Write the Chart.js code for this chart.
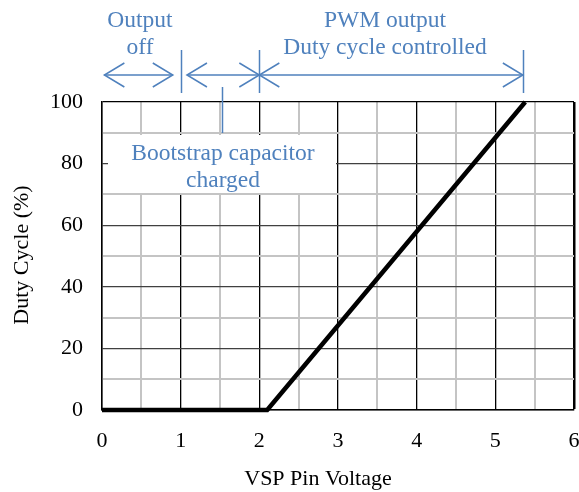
<!DOCTYPE html>
<html>
<head>
<meta charset="utf-8">
<script src="https://cdn.jsdelivr.net/npm/chart.js@4"></script>
<style>
  html, body { margin: 0; padding: 0; background: #fff; }
  #wrap { width: 579px; height: 492px; }
</style>
</head>
<body>
<div id="wrap"><canvas id="dutyChart" width="579" height="492"></canvas></div>
<script>
// du lieu doc tu hinh
const vspVoltage = [0, 2.1, 5.38];
const dutyCycle = [0, 0, 100];
const xTicks = [0, 1, 2, 3, 4, 5, 6];
const yTicks = [0, 20, 40, 60, 80, 100];
// vung (V): output off | bootstrap | PWM
const regionEdges = [1, 2, 5.35];
const bootstrapMark = 1.53;

const BLUE = '#4f81bd';
const SERIF = '"Liberation Serif", "Times New Roman", serif';

function arrowHead(ctx, x, y, dir) {
    ctx.beginPath();
    ctx.moveTo(x - dir * 20, y - 12);
    ctx.lineTo(x, y);
    ctx.lineTo(x - dir * 20, y + 12);
    ctx.stroke();
}

function hArrow(ctx, x1, x2, y) {
    ctx.beginPath();
    ctx.moveTo(x1, y);
    ctx.lineTo(x2, y);
    ctx.stroke();
    arrowHead(ctx, x1, y, -1);
    arrowHead(ctx, x2, y, 1);
}

const annotations = {
    id: 'annotations',
    afterDraw(chart) {
        const ctx = chart.ctx;
        const xs = chart.scales.x;
        ctx.save();
        ctx.strokeStyle = BLUE;
        ctx.fillStyle = BLUE;
        ctx.lineWidth = 1.5;

        // cac vach dung
        regionEdges.forEach(v => {
            const px = Math.round(xs.getPixelForValue(v)) + 0.5;
            ctx.beginPath();
            ctx.moveTo(px, 50);
            ctx.lineTo(px, 93);
            ctx.stroke();
        });
        const bx = Math.round(xs.getPixelForValue(bootstrapMark)) + 0.5;
        ctx.beginPath();
        ctx.moveTo(bx, 87);
        ctx.lineTo(bx, 133);
        ctx.stroke();

        // mui ten
        const ay = 75;
        hArrow(ctx, xs.getPixelForValue(0.03), xs.getPixelForValue(0.9), ay);
        hArrow(ctx, xs.getPixelForValue(1.08), xs.getPixelForValue(regionEdges[1]), ay);
        hArrow(ctx, xs.getPixelForValue(regionEdges[1]), xs.getPixelForValue(regionEdges[2]), ay);

        // chu
        ctx.font = '23.5px ' + SERIF;
        ctx.textAlign = 'center';
        ctx.textBaseline = 'middle';
        ctx.fillText('Output', 140, 21);
        ctx.fillText('off', 140, 48);
        ctx.fillText('PWM output', 385, 21);
        ctx.fillText('Duty cycle controlled', 385, 48);

        // hop Bootstrap
        ctx.fillStyle = '#fff';
        ctx.fillRect(108, 135, 228, 58);
        ctx.fillStyle = BLUE;
        ctx.fillText('Bootstrap capacitor', 223, 154);
        ctx.fillText('charged', 223, 181);

        // tieu de truc
        ctx.fillStyle = '#000';
        ctx.font = '22px ' + SERIF;
        ctx.fillText('VSP Pin Voltage', 318, 479);
        ctx.translate(22, 255);
        ctx.rotate(-Math.PI / 2);
        ctx.fillText('Duty Cycle (%)', 0, 0);
        ctx.restore();
    }
};

const ctx = document.getElementById('dutyChart').getContext('2d');
new Chart(ctx, {
    type: 'scatter',
    data: {
        datasets: [{
            data: vspVoltage.map((v, i) => ({ x: v, y: dutyCycle[i] })),
            showLine: true,
            borderColor: '#000',
            borderWidth: 4.5,
            pointRadius: 0,
            tension: 0,
            clip: false
        }]
    },
    options: {
        responsive: false,
        animation: false,
        layout: { padding: { top: 102, right: 5, left: 0, bottom: 0 } },
        plugins: { legend: { display: false }, tooltip: { enabled: false } },
        scales: {
            x: {
                type: 'linear',
                min: xTicks[0],
                max: xTicks[xTicks.length - 1],
                afterFit: s => { s.height = 82; s.paddingLeft = 0; s.paddingRight = 0; },
                ticks: {
                    stepSize: 0.5,
                    padding: 18,
                    color: '#000',
                    font: { family: SERIF, size: 22 },
                    autoSkip: false,
                    maxRotation: 0,
                    callback: v => xTicks.includes(v) ? String(v) : ''
                },
                grid: {
                    drawTicks: false,
                    color: c => Number.isInteger(c.tick.value) ? '#000' : '#c4c4c4',
                    lineWidth: c => c.tick.value === 6 ? 2.5 : (Number.isInteger(c.tick.value) ? 1.3 : 2)
                },
                border: { color: '#000', width: 1.5 }
            },
            y: {
                min: yTicks[0],
                max: yTicks[yTicks.length - 1],
                afterFit: s => { s.width = 102; s.paddingTop = 0; s.paddingBottom = 0; },
                ticks: {
                    stepSize: 10,
                    padding: 19,
                    color: '#000',
                    font: { family: SERIF, size: 22 },
                    autoSkip: false,
                    callback: v => yTicks.includes(v) ? String(v) : ''
                },
                grid: {
                    drawTicks: false,
                    color: c => c.tick.value === 100 ? '#000' : (c.tick.value % 20 === 0 ? '#404040' : '#c4c4c4'),
                    lineWidth: c => c.tick.value % 20 === 0 ? 1.3 : 2
                },
                border: { color: '#000', width: 1.5 }
            }
        }
    },
    plugins: [annotations]
});
</script>
</body>
</html>
